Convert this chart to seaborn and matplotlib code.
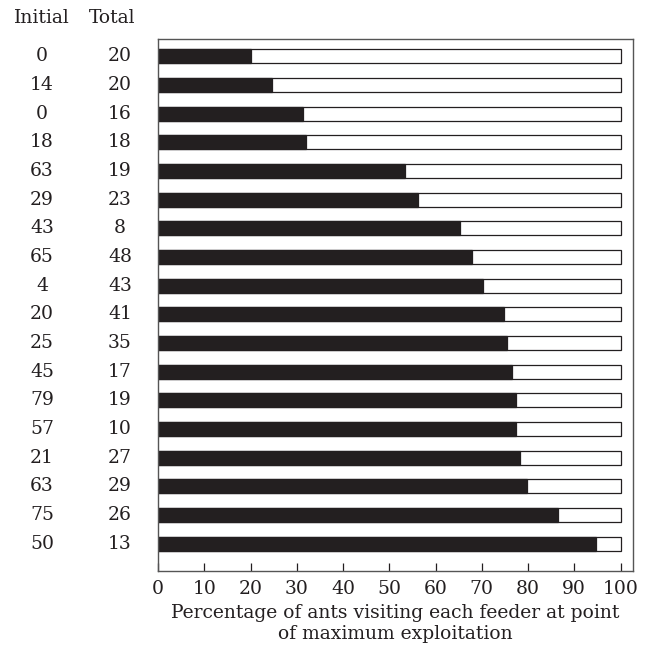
import pandas as pd
import seaborn as sns
import matplotlib.pyplot as plt
from matplotlib.transforms import blended_transform_factory

plt.rcParams['font.family'] = ['DejaVu Serif']

# Data (top to bottom)
initial = [0, 14, 0, 18, 63, 29, 43, 65, 4, 20, 25, 45, 79, 57, 21, 63, 75, 50]
total = [20, 20, 16, 18, 19, 23, 8, 48, 43, 41, 35, 17, 19, 10, 27, 29, 26, 13]
pct_visiting = [20, 24.7, 31.3, 32.0, 53.4, 56.3, 65.2, 67.8, 70.3,
                74.8, 75.5, 76.6, 77.3, 77.4, 78.2, 79.8, 86.4, 94.7]

data = pd.DataFrame({
    'feeder': [str(i) for i in range(len(pct_visiting))],
    'pct': pct_visiting,
    'full': [100] * len(pct_visiting),
})

fig = plt.figure(figsize=(6.5, 6.54), dpi=100)
ax = fig.add_axes([158 / 650, 1 - 570.5 / 654, (633 - 158) / 650, (570.5 - 39) / 654])

ink = '#231f20'
fs = 13.5
sns.barplot(data=data, x='full', y='feeder', orient='h', color='white',
            saturation=1, edgecolor=ink, linewidth=0.9, width=0.49, ax=ax)
sns.barplot(data=data, x='pct', y='feeder', orient='h', color=ink,
            saturation=1, edgecolor=ink, linewidth=0.9, width=0.49, ax=ax)

ax.set_xlim(0, 102.7)
ax.set_ylim(len(pct_visiting) - 1 + 0.935, -0.6)
ax.set_xticks(range(0, 101, 10))
ax.tick_params(axis='x', direction='in', length=6, width=0.9, pad=7,
               labelsize=fs, color=ink, labelcolor=ink)
ax.set_yticks([])
ax.set_ylabel('')
ax.set_xlabel('Percentage of ants visiting each feeder at point\nof maximum exploitation',
              fontsize=fs, color=ink, labelpad=4, linespacing=1.2)
for s in ax.spines.values():
    s.set_color('#555555')
    s.set_linewidth(1.0)

# Left-hand table of initial and total counts
trans = blended_transform_factory(fig.transFigure, ax.transData)
for i, (a, b) in enumerate(zip(initial, total)):
    ax.text(42 / 650, i, str(a), transform=trans, ha='center', va='center',
            fontsize=fs, color=ink, clip_on=False)
    ax.text(120 / 650, i, str(b), transform=trans, ha='center', va='center',
            fontsize=fs, color=ink, clip_on=False)
ax.text(42 / 650, -1.33, 'Initial', transform=trans, ha='center', va='center',
        fontsize=fs, color=ink, clip_on=False)
ax.text(112 / 650, -1.33, 'Total', transform=trans, ha='center', va='center',
        fontsize=fs, color=ink, clip_on=False)

plt.savefig('out.png', dpi=100)
